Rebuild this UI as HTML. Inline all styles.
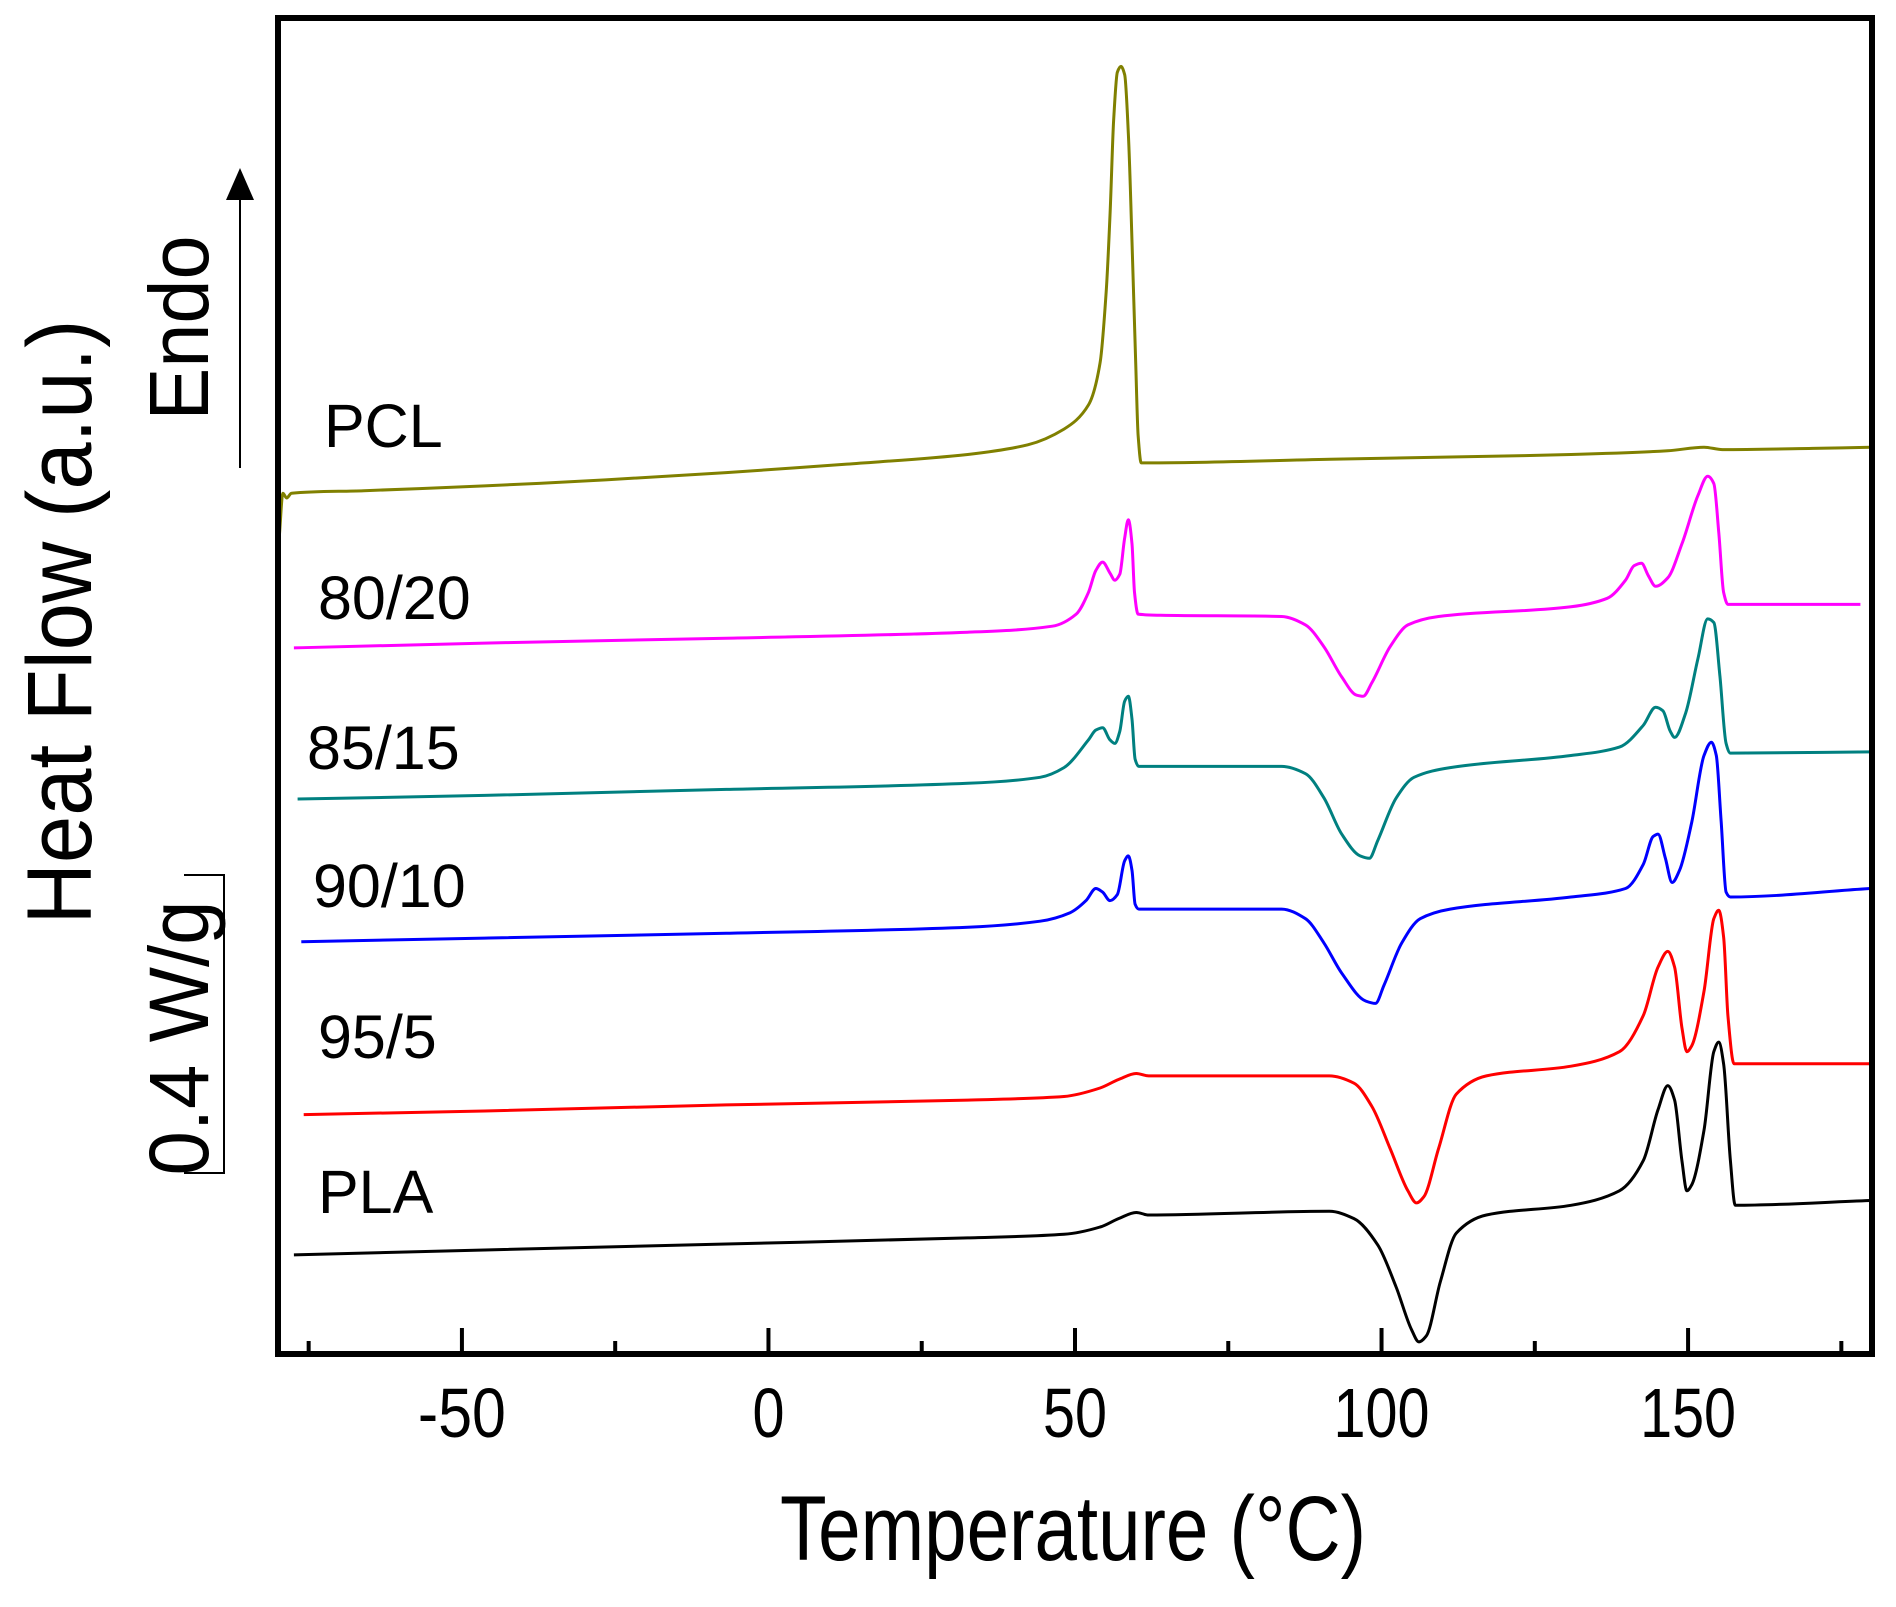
<!DOCTYPE html>
<html><head><meta charset="utf-8"><style>
html,body{margin:0;padding:0;background:#fff;}
svg{display:block;font-family:"Liberation Sans",Arial,sans-serif;}
</style></head><body>
<svg id="chart" width="1896" height="1607" viewBox="0 0 1896 1607" xmlns="http://www.w3.org/2000/svg">
<g id="curves"></g>
<rect x="278" y="18" width="1594" height="1336" fill="none" stroke="#000" stroke-width="6"/>
<g id="ticks"></g>
<text x="1073" y="1560" font-size="92" text-anchor="middle" textLength="586" lengthAdjust="spacingAndGlyphs">Temperature (°C)</text>
<text transform="translate(91,622) rotate(-90)" font-size="92" text-anchor="middle" textLength="605" lengthAdjust="spacingAndGlyphs">Heat Flow (a.u.)</text>
<text transform="translate(208,328) rotate(-90)" font-size="84" text-anchor="middle" textLength="185" lengthAdjust="spacingAndGlyphs">Endo</text>
<line x1="240" y1="468" x2="240" y2="195" stroke="#000" stroke-width="2"/>
<polygon points="240,168 226,200 254,200" fill="#000"/>
<text transform="translate(208,1038) rotate(-90)" font-size="84" text-anchor="middle" textLength="275" lengthAdjust="spacingAndGlyphs">0.4 W/g</text>
<polyline points="184,875 224,875 224,1173 184,1173" fill="none" stroke="#000" stroke-width="2"/>
<g id="labels" font-size="61">
<text x="324" y="447">PCL</text>
<text x="318" y="619">80/20</text>
<text x="307" y="769">85/15</text>
<text x="313" y="907">90/10</text>
<text x="318" y="1058">95/5</text>
<text x="318" y="1213">PLA</text>
</g>
</svg>
<script>
const majorTicks = [-50, 0, 50, 100, 150];
const minorTicks = [-75, -25, 25, 75, 125, 175];
const tickLabels = ["-50", "0", "50", "100", "150"];

const tPCL = [-79.8,-79.2,-78.6,-77.8,-66,-46.3,-26.6,-6.9,12.8,32.5,42.3,48.2,52.2,54.1,55.1,55.7,56.3,56.9,57.5,58.1,58.7,59.3,59.9,60.3,60.8,62,91.6,130.9,146.7,152.6,155.6,170.3,179.8];
const vPCL = [6.75,7.12,7.08,7.12,7.14,7.18,7.23,7.29,7.36,7.44,7.52,7.65,7.85,8.20,8.80,9.40,10.20,10.60,10.65,10.58,10.10,9.20,8.20,7.60,7.37,7.37,7.40,7.44,7.47,7.50,7.48,7.49,7.50];

const t8020 = [-77.4,-46.3,-6.9,32.5,46.3,50.2,52.2,53.4,54.5,55.7,56.5,57.3,58.1,58.7,59.3,59.7,60.3,64.0,83.7,87.6,90.6,93.5,95.9,97.0,98.4,101.4,104.3,109.3,130.9,136.8,139.8,141.2,142.4,143.5,144.7,146.7,149.0,151.6,153.2,154.2,155.0,155.8,156.5,178.1];
const v8020 = [5.84,5.88,5.92,5.97,6.02,6.12,6.30,6.48,6.55,6.46,6.40,6.45,6.75,6.90,6.70,6.30,6.12,6.11,6.10,6.03,5.85,5.60,5.45,5.44,5.55,5.85,6.03,6.10,6.18,6.25,6.40,6.52,6.54,6.44,6.35,6.42,6.70,7.10,7.26,7.20,6.80,6.30,6.20,6.20];

const t8515 = [-76.8,-46.3,-6.9,32.5,44.3,48.2,52.2,53.4,54.5,55.7,56.5,57.3,58.1,58.7,59.3,59.8,60.4,83.7,87.6,90.6,93.5,96.5,98.0,99.4,102.4,105.3,111.2,130.9,138.8,142.7,144.7,145.9,147.1,147.8,149.6,151.6,153.2,154.2,155.2,156.2,156.9,179.7];
const v8515 = [4.59,4.62,4.67,4.72,4.77,4.85,5.08,5.16,5.18,5.08,5.05,5.15,5.40,5.44,5.25,4.92,4.86,4.86,4.80,4.60,4.30,4.12,4.10,4.25,4.60,4.77,4.85,4.95,5.02,5.20,5.35,5.32,5.15,5.10,5.30,5.75,6.08,6.05,5.60,5.05,4.97,4.98];

const t9010 = [-76.2,-46.3,-6.9,32.5,44.3,49.2,51.8,53.4,54.5,55.7,56.9,58.1,58.7,59.3,59.8,60.4,83.7,87.6,90.6,93.5,97.4,99.0,100.4,103.3,106.3,111.2,130.9,139.8,142.7,144.3,145.1,146.3,147.4,148.6,150.6,152.6,153.8,154.6,155.4,156.2,156.9,179.7];
const v9010 = [3.41,3.44,3.48,3.53,3.58,3.65,3.75,3.85,3.82,3.75,3.80,4.08,4.12,4.00,3.72,3.68,3.68,3.60,3.40,3.15,2.92,2.90,3.05,3.40,3.60,3.68,3.78,3.85,4.05,4.28,4.30,4.10,3.90,4.00,4.40,4.95,5.06,4.95,4.40,3.82,3.78,3.85];

const t955 = [-75.8,-46.3,-6.9,32.5,48.2,54.1,57.1,60.0,62.0,91.5,95.5,98.4,101.4,104.3,105.7,106.9,109.3,112.2,117.1,130.9,138.8,142.7,145.1,146.7,147.8,149.0,149.8,150.6,152.6,154.2,155.0,155.8,156.5,157.5,179.7];
const v955 = [1.98,2.01,2.06,2.10,2.13,2.20,2.27,2.32,2.30,2.30,2.24,2.05,1.70,1.35,1.25,1.30,1.70,2.15,2.30,2.38,2.50,2.80,3.20,3.33,3.20,2.70,2.50,2.55,3.00,3.60,3.67,3.45,2.80,2.40,2.40];

const tPLA = [-77.4,-46.3,-6.9,32.5,48.2,54.1,57.1,60.0,62.0,91.5,95.5,99.4,102.4,104.9,106.1,107.3,109.6,112.2,117.1,130.9,138.8,142.7,145.1,146.7,147.8,149.0,149.8,150.6,152.6,154.2,155.0,155.8,156.9,157.7,179.7];
const vPLA = [0.82,0.86,0.91,0.96,0.99,1.05,1.12,1.17,1.15,1.18,1.12,0.90,0.55,0.20,0.10,0.15,0.60,1.00,1.15,1.23,1.35,1.60,2.02,2.22,2.10,1.60,1.35,1.40,1.85,2.50,2.58,2.40,1.60,1.23,1.27];

const NS = "http://www.w3.org/2000/svg";
const X0 = 278, X1 = 1872, TMIN = -80, TMAX = 180;
const Y0 = 1354, Y1 = 18, VMIN = 0, VMAX = 11.05;
function xScale(t){ return X0 + (t - TMIN) / (TMAX - TMIN) * (X1 - X0); }
function yScale(v){ return Y0 - (v - VMIN) / (VMAX - VMIN) * (Y0 - Y1); }

// monotone cubic (Fritsch-Carlson) to avoid overshoot
function pathFor(ts, vs){
  const x = ts.map(xScale), y = vs.map(yScale), n = x.length;
  const d = [], m = new Array(n);
  for (let i=0;i<n-1;i++) d.push((y[i+1]-y[i])/(x[i+1]-x[i]));
  m[0] = d[0]; m[n-1] = d[n-2];
  for (let i=1;i<n-1;i++){
    if (d[i-1]*d[i] <= 0) m[i] = 0;
    else {
      const h0 = x[i]-x[i-1], h1 = x[i+1]-x[i];
      const w1 = 2*h1+h0, w2 = h1+2*h0;
      m[i] = (w1+w2)/(w1/d[i-1] + w2/d[i]);
    }
  }
  let s = "M" + x[0].toFixed(1) + "," + y[0].toFixed(1);
  for (let i=0;i<n-1;i++){
    const h = (x[i+1]-x[i])/3;
    s += " C" + (x[i]+h).toFixed(1) + "," + (y[i]+m[i]*h).toFixed(1) + " " + (x[i+1]-h).toFixed(1) + "," + (y[i+1]-m[i+1]*h).toFixed(1) + " " + x[i+1].toFixed(1) + "," + y[i+1].toFixed(1);
  }
  return s;
}

const curves = document.getElementById("curves");
function addCurve(ts, vs, color, name){
  const el = document.createElementNS(NS, "path");
  el.setAttribute("d", pathFor(ts, vs));
  el.setAttribute("fill", "none");
  el.setAttribute("stroke", color);
  el.setAttribute("stroke-width", "3");
  el.setAttribute("stroke-linejoin", "round");
  
  
  curves.appendChild(el);
}
addCurve(tPCL, vPCL, "#808000", "curve-pcl");
addCurve(t8020, v8020, "#ff00ff", "curve-80-20");
addCurve(t8515, v8515, "#008080", "curve-85-15");
addCurve(t9010, v9010, "#0000ff", "curve-90-10");
addCurve(t955, v955, "#ff0000", "curve-95-5");
addCurve(tPLA, vPLA, "#000000", "curve-pla");

const ticks = document.getElementById("ticks");
majorTicks.forEach((t,i)=>{
  const ln = document.createElementNS(NS, "line");
  ln.setAttribute("x1", xScale(t)); ln.setAttribute("x2", xScale(t));
  ln.setAttribute("y1", Y0); ln.setAttribute("y2", Y0 - 26);
  ln.setAttribute("stroke", "#000"); ln.setAttribute("stroke-width", "4");
  
  
  ticks.appendChild(ln);
  const tx = document.createElementNS(NS, "text");
  tx.setAttribute("x", xScale(t));
  tx.setAttribute("y", 1437);
  tx.setAttribute("font-size", "70");
  tx.setAttribute("text-anchor", "middle");
  const lab = tickLabels[i];
  const len = lab.replace("-","").length * 32 + (lab.indexOf("-")>=0 ? 24 : 0);
  tx.setAttribute("textLength", len);
  tx.setAttribute("lengthAdjust", "spacingAndGlyphs");
  tx.textContent = lab;
  
  
  ticks.appendChild(tx);
});
minorTicks.forEach(t=>{
  const ln = document.createElementNS(NS, "line");
  ln.setAttribute("x1", xScale(t)); ln.setAttribute("x2", xScale(t));
  ln.setAttribute("y1", Y0); ln.setAttribute("y2", Y0 - 13);
  ln.setAttribute("stroke", "#000"); ln.setAttribute("stroke-width", "4");
  
  
  ticks.appendChild(ln);
});
</script>
</body></html>
